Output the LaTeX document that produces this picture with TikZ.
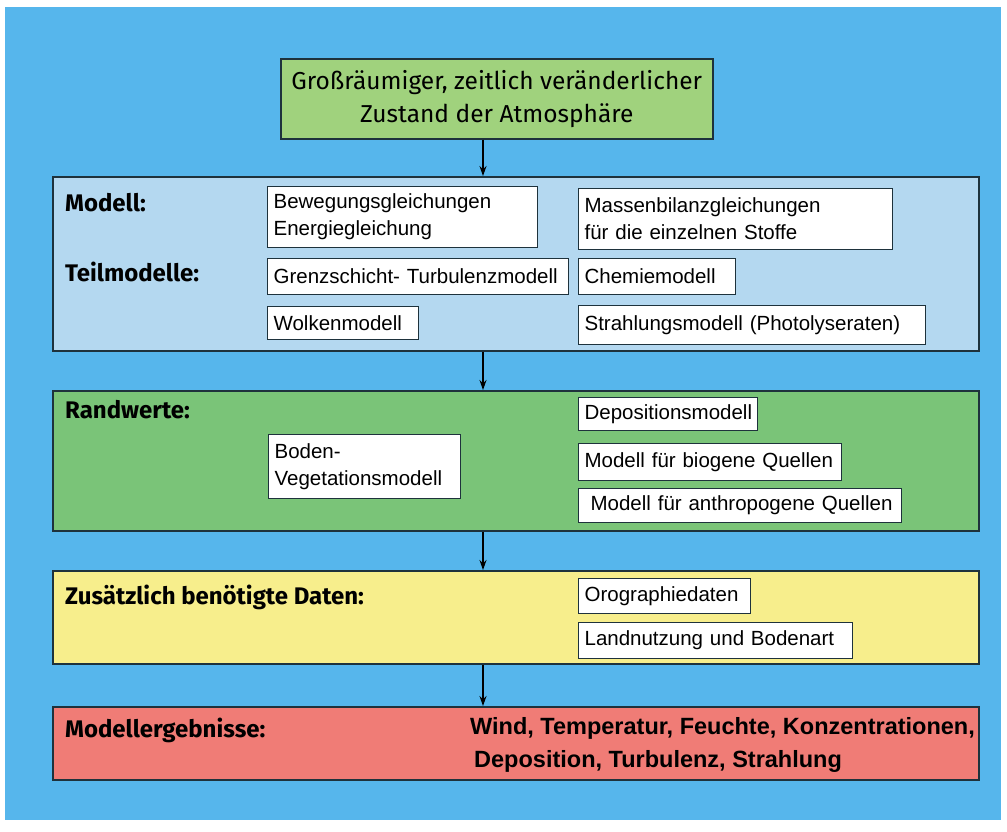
\documentclass[tikz,border=0pt]{standalone}
\usepackage{fontspec}
\setmainfont{Liberation Sans}
\newfontfamily\handfont{Fira Sans}
\usetikzlibrary{arrows.meta}

\definecolor{skyblue}{RGB}{86,182,236}
\definecolor{palegreen}{RGB}{160,210,125}
\definecolor{paleblue}{RGB}{180,216,240}
\definecolor{midgreen}{RGB}{122,196,120}
\definecolor{paleyellow}{RGB}{247,238,140}
\definecolor{salmon}{RGB}{240,124,118}
\definecolor{rimcolor}{RGB}{30,50,60}

\begin{document}
\hyphenpenalty=10000
\exhyphenpenalty=10000
\begin{tikzpicture}[x=1pt, y=-1pt,
                    band/.style={draw=rimcolor, line width=1.6pt, anchor=north west, minimum width=926, inner sep=0pt},
                    item/.style={draw=rimcolor, line width=1.2pt, fill=white, anchor=north west, inner xsep=6pt, inner ysep=0pt,
                                 align=left, text width=#1, font=\fontsize{20.5}{27}\selectfont},
                    head/.style={anchor=west, inner sep=0pt, font=\handfont\fontsize{24}{26}\selectfont\bfseries}
]

\useasboundingbox (0,0) rectangle (1007,832);
\fill[white] (0,0) rectangle (1007,832);
\fill[skyblue] (5,7) rectangle (1001,820);
\coordinate (axis) at (483,0);

% Zustand
\node [draw=rimcolor, line width=1.6pt, fill=palegreen, anchor=north west, minimum width=432, minimum height=80,
       align=center, font=\handfont\fontsize{24.5}{33}\selectfont] (zustand) at (280,58)
      {Großräumiger, zeitlich veränderlicher\\Zustand der Atmosphäre};
%
% Modell
\node [band, fill=paleblue, minimum height=174] (modell) at (52,176) {};
\node [head] (lmodell) at (65,203) {Modell:};
\node [head] (lteil) at (65,272) {Teilmodelle:};
\node [item=258, minimum height=61] (beweg) at (267,186) {Bewegungsgleichungen\\Energiegleichung};
\node [item=302, minimum height=61] (massen) at (578,188) {Massenbilanzgleichungen\\für die einzelnen Stoffe};
\node [item=289, minimum height=36] (grenz) at (267,258) {Grenzschicht- Turbulenzmodell};
\node [item=145, minimum height=36] (chemie) at (578,258) {Chemiemodell};
\node [item=139, minimum height=33] (wolken) at (267,306) {Wolkenmodell};
\node [item=335, minimum height=39] (strahl) at (578,305) {Strahlungsmodell (Photolyseraten)};
%
% Randwerte
\node [band, fill=midgreen, minimum height=140] (rand) at (52,390) {};
\node [head] (lrand) at (65,410) {Randwerte:};
\node [item=180, minimum height=64] (boden) at (268,434) {Boden-\\Vegetationsmodell};
\node [item=167, minimum height=33] (depos) at (578,397) {Depositionsmodell};
\node [item=251, minimum height=37] (biogen) at (578,443) {Modell für biogene Quellen};
\node [item=311, minimum height=34] (anthro) at (578,488) {\hspace*{6pt}Modell für anthropogene Quellen};
%
% Daten
\node [band, fill=paleyellow, minimum height=93] (daten) at (52,570) {};
\node [head] (ldaten) at (65,597) {Zusätzlich benötigte Daten:};
\node [item=160, minimum height=35] (orogr) at (578,578) {Orographiedaten};
\node [item=262, minimum height=36] (landn) at (578,622) {Landnutzung und Bodenart};
%
% Ergebnisse
\node [band, fill=salmon, minimum height=73] (ergebnis) at (52,706) {};
\node [head] (lergebnis) at (65,730) {Modellergebnisse:};
\node [anchor=north west, inner sep=0pt, align=left, font=\fontsize{23.5}{33}\selectfont\bfseries] (werte) at (470,717)
      {Wind, Temperatur, Feuchte, Konzentrationen,\\ \hspace*{4pt}Deposition, Turbulenz, Strahlung};
%
\draw [line width=1.4pt, -{Stealth[length=10pt,width=7pt]}] (zustand.south -| axis) -- (modell.north -| axis);
\draw [line width=1.4pt, -{Stealth[length=10pt,width=7pt]}] (modell.south -| axis) -- (rand.north -| axis);
\draw [line width=1.4pt, -{Stealth[length=10pt,width=7pt]}] (rand.south -| axis) -- (daten.north -| axis);
\draw [line width=1.4pt, -{Stealth[length=10pt,width=7pt]}] (daten.south -| axis) -- (ergebnis.north -| axis);
\end{tikzpicture}
\end{document}
